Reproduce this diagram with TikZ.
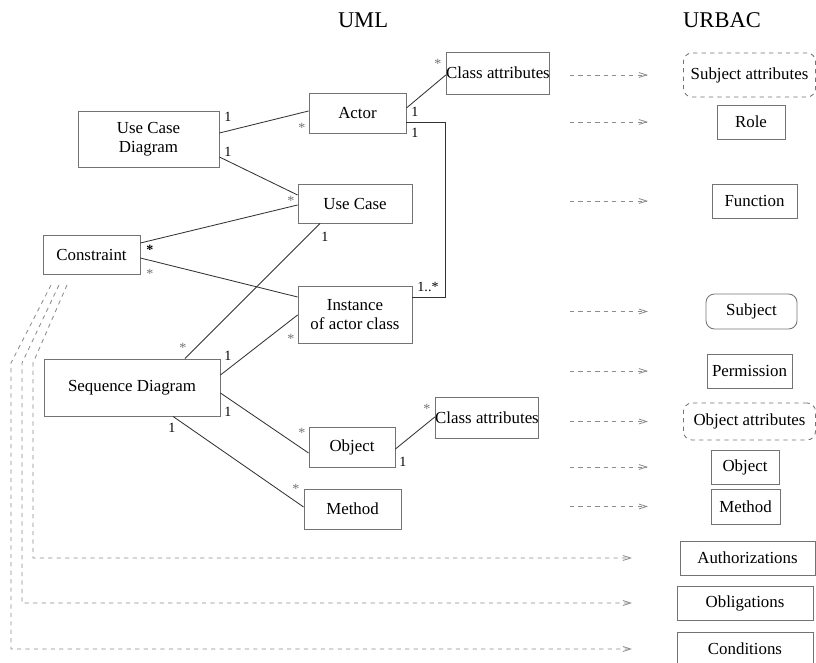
\documentclass[tikz,border=0pt]{standalone}
\usepackage{fontspec}
\setmainfont{Liberation Serif}
\usetikzlibrary{arrows.meta}
\colorlet{frame}{black!55}
\colorlet{link}{black!80}
\colorlet{maps}{black!45}

\begin{document}
\begin{tikzpicture}
[x=0.025cm, y=-0.025cm, line width=0.6pt,
 cls/.style={rectangle, draw=frame, inner sep=0pt, align=center, font=\fontsize{12}{13.5}\selectfont},
 card/.style={inner sep=0pt, font=\fontsize{10}{11}\selectfont},
 many/.style={card, text=black!55},
 assoc/.style={draw=link},
 ->/.style={draw=maps, arrows={-Straight Barb[length=5.5pt, width=3.5pt]}}]
\useasboundingbox (0,0) rectangle (816,663);
\node[font=\fontsize{16}{18}\selectfont] (uml) at (363,20) {UML};
\node[font=\fontsize{16}{18}\selectfont] (urbac) at (722,20) {URBAC};

% UML side
\node[cls, minimum width=3.525cm, minimum height=1.4cm] (ucd) at (148.5,139) {Use Case\\Diagram};
\node[cls, minimum width=2.425cm, minimum height=1cm] (actor) at (357.5,113) {Actor};
\node[cls, minimum width=2.85cm, minimum height=0.975cm] (usecase) at (355,203.5) {Use Case};
\node[cls, minimum width=2.55cm, minimum height=1.05cm] (cattr) at (498,73) {Class attributes};
\node[cls, minimum width=2.425cm, minimum height=0.975cm] (constr) at (91.5,254.5) {Constraint};
\node[cls, minimum width=2.85cm, minimum height=1.425cm] (inst) at (355,314.5) {Instance\\of actor class};
\node[cls, minimum width=4.4cm, minimum height=1.425cm] (seq) at (132,387.5) {Sequence Diagram};
\node[cls, minimum width=2.15cm, minimum height=1cm] (obj) at (352,447) {Object};
\node[cls, minimum width=2.425cm, minimum height=1cm] (meth) at (352.5,509) {Method};
\node[cls, minimum width=2.55cm, minimum height=1.025cm] (oattr) at (487,417.5) {Class attributes};

% URBAC side
\node[cls, dashed, rounded corners=6pt, minimum width=3.3cm, minimum height=1.1cm] (subattr) at (749.5,75) {Subject attributes};
\node[cls, minimum width=1.7cm, minimum height=0.85cm] (role) at (751,122) {Role};
\node[cls, minimum width=2.125cm, minimum height=0.85cm] (func) at (754.5,201) {Function};
\node[cls, rounded corners=6pt, minimum width=2.275cm, minimum height=0.875cm] (subj) at (751.5,311.5) {Subject};
\node[cls, minimum width=2.125cm, minimum height=0.85cm] (perm) at (749.5,371) {Permission};
\node[cls, dashed, rounded corners=6pt, minimum width=3.3cm, minimum height=0.925cm] (objattr) at (749.5,421.5) {Object attributes};
\node[cls, minimum width=1.7cm, minimum height=0.85cm] (objr) at (745,467) {Object};
\node[cls, minimum width=1.725cm, minimum height=0.875cm] (methr) at (745.5,506.5) {Method};
\node[cls, minimum width=3.375cm, minimum height=0.85cm] (auth) at (747.5,558) {Authorizations};
\node[cls, minimum width=3.4cm, minimum height=0.85cm] (oblig) at (745,603) {Obligations};
\node[cls, minimum width=3.4cm, minimum height=0.85cm] (cond) at (745,649) {Conditions};

% associations
\draw[assoc] (ucd.east |- 0,133) -- (actor.west |- 0,111);
\draw[assoc] (ucd.east |- 0,157) -- (usecase.west |- 0,195);
\draw[assoc] (constr.east |- 0,243) -- (usecase.west |- 0,205);
\draw[assoc] (constr.east |- 0,258) -- (inst.west |- 0,297);
\draw[assoc] (usecase.south -| 320,0) -- (seq.north -| 185,0);
\draw[assoc] (seq.east |- 0,375) -- (inst.west |- 0,315);
\draw[assoc] (seq.east |- 0,393) -- (obj.west |- 0,453);
\draw[assoc] (seq.south -| 173,0) -- (meth.west |- 0,507);
\draw[assoc] (actor.east |- 0,108) -- (cattr.west |- 0,75);
\draw[assoc] (actor.east |- 0,122) -| (445,297) -- (inst.east |- 0,297);
\draw[assoc] (obj.east |- 0,449) -- (oattr.west |- 0,417);

\node[card] (m1) at (228,117) {1}; \node[many] (m2) at (302,128) {*};
\node[card] (m3) at (228,152) {1}; \node[many] (m4) at (291,201) {*};
\node[card] (m5) at (150,250) {\textbf{*}}; \node[many] (m6) at (150,274) {*};
\node[card] (m7) at (325,237) {1}; \node[many] (m8) at (183,348) {*};
\node[card] (m9) at (228,356) {1}; \node[many] (m10) at (291,339) {*};
\node[card] (m11) at (228,412) {1}; \node[many] (m12) at (302,433) {*};
\node[card] (m13) at (172,428) {1}; \node[many] (m14) at (296,489) {*};
\node[card] (m15) at (415,112) {1}; \node[many] (m16) at (438,64) {*};
\node[card] (m17) at (415,133) {1}; \node[card] (m18) at (428,287) {1..*};
\node[card] (m19) at (403,462) {1}; \node[many] (m20) at (427,409) {*};

% mappings UML -> URBAC
\foreach \n in {subattr,role,func,subj,perm,objattr,objr,methr}
  \draw[->,dashed] (570,0 |- \n) -- (648,0 |- \n);
\coordinate (k1) at (67,285);
\coordinate (k2) at (59,285);
\coordinate (k3) at (51,285);
\draw[->,dashed] (k1) -- (33,363) -- (33,0 |- auth) -- (632,0 |- auth);
\draw[->,dashed] (k2) -- (22,363) -- (22,0 |- oblig) -- (632,0 |- oblig);
\draw[->,dashed] (k3) -- (11,363) -- (11,0 |- cond) -- (632,0 |- cond);

\end{tikzpicture}
\end{document}
